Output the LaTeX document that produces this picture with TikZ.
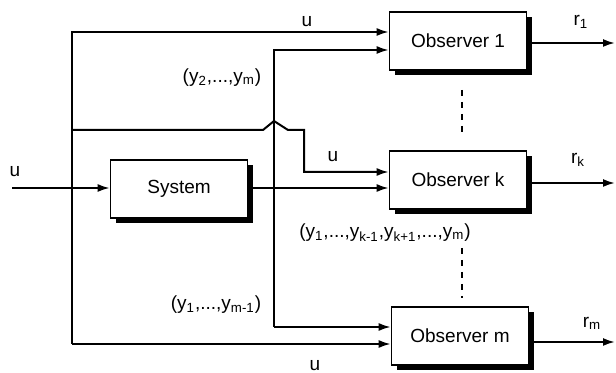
\documentclass[tikz,border=0pt]{standalone}
\usepackage{fontspec}
\setmainfont{Liberation Sans}
\usetikzlibrary{arrows.meta,shadows}

\begin{document}
\begin{tikzpicture}[x=0.5pt,y=-0.5pt,
    font=\fontsize{9.5pt}{11pt}\selectfont,
    block/.style={draw,line width=0.8pt,fill=white,minimum width=68.5pt,minimum height=29pt,
      general shadow={fill=black,shadow xshift=2.5pt,shadow yshift=-2.5pt}},
    sig/.style={line width=1pt,-{Latex[length=6pt,width=4pt]}},
    wire/.style={line width=1pt}]
  % Overall frame of the picture.
  \useasboundingbox (0,0) rectangle (616,373);

  \node[block] (sys)  at (179,189) {System};
  \node[block] (obs1) at (458,41)  {Observer 1};
  \node[block] (obsk) at (458,180) {Observer k};
  \node[block] (obsm) at (460,336) {Observer m};

  \coordinate (uin) at (12,188);
  \coordinate (r1)  at (615,43);
  \coordinate (rk)  at (615,183);
  \coordinate (rm)  at (615,342);

  % input u, fed to all observers
  \draw[sig]  (uin) -- (sys.west |- uin);
  \draw[sig]  (72,344) -- (72,32) -- (obs1.west |- 0,32);
  \draw[sig]  (72,344) -- (obsm.west |- 0,344);
  \draw[sig]  (72,130) -- (263,130) -- (274,121) -- (288,130) -- (304,130)
              -- (304,172) -- (obsk.west |- 0,172);

  % outputs y
  \draw[sig]  (sys.east |- 0,188) -- (obsk.west |- 0,188);
  \draw[sig]  (274,327) -- (274,50) -- (obs1.west |- 0,50);
  \draw[sig]  (274,327) -- (obsm.west |- 0,327);

  % residuals
  \draw[sig] (obs1.east |- r1) -- (r1);
  \draw[sig] (obsk.east |- rk) -- (rk);
  \draw[sig] (obsm.east |- rm) -- (rm);

  \draw[line width=0.8pt,dashed] (462,90) -- (462,137);
  \draw[line width=0.8pt,dashed] (462,248) -- (462,298);

  \node at (15,172)  {u};
  \node at (307,22)  {u};
  \node at (333,157) {u};
  \node at (315,366) {u};
  \node at (222,78)  {(y\textsubscript{2},...,y\textsubscript{m})};
  \node at (216,305) {(y\textsubscript{1},...,y\textsubscript{m-1})};
  \node at (385,233) {(y\textsubscript{1},...,y\textsubscript{k-1},y\textsubscript{k+1},...,y\textsubscript{m})};
  \node at (581,22)  {r\textsubscript{1}};
  \node at (578,160) {r\textsubscript{k}};
  \node at (592,323) {r\textsubscript{m}};
\end{tikzpicture}
\end{document}
